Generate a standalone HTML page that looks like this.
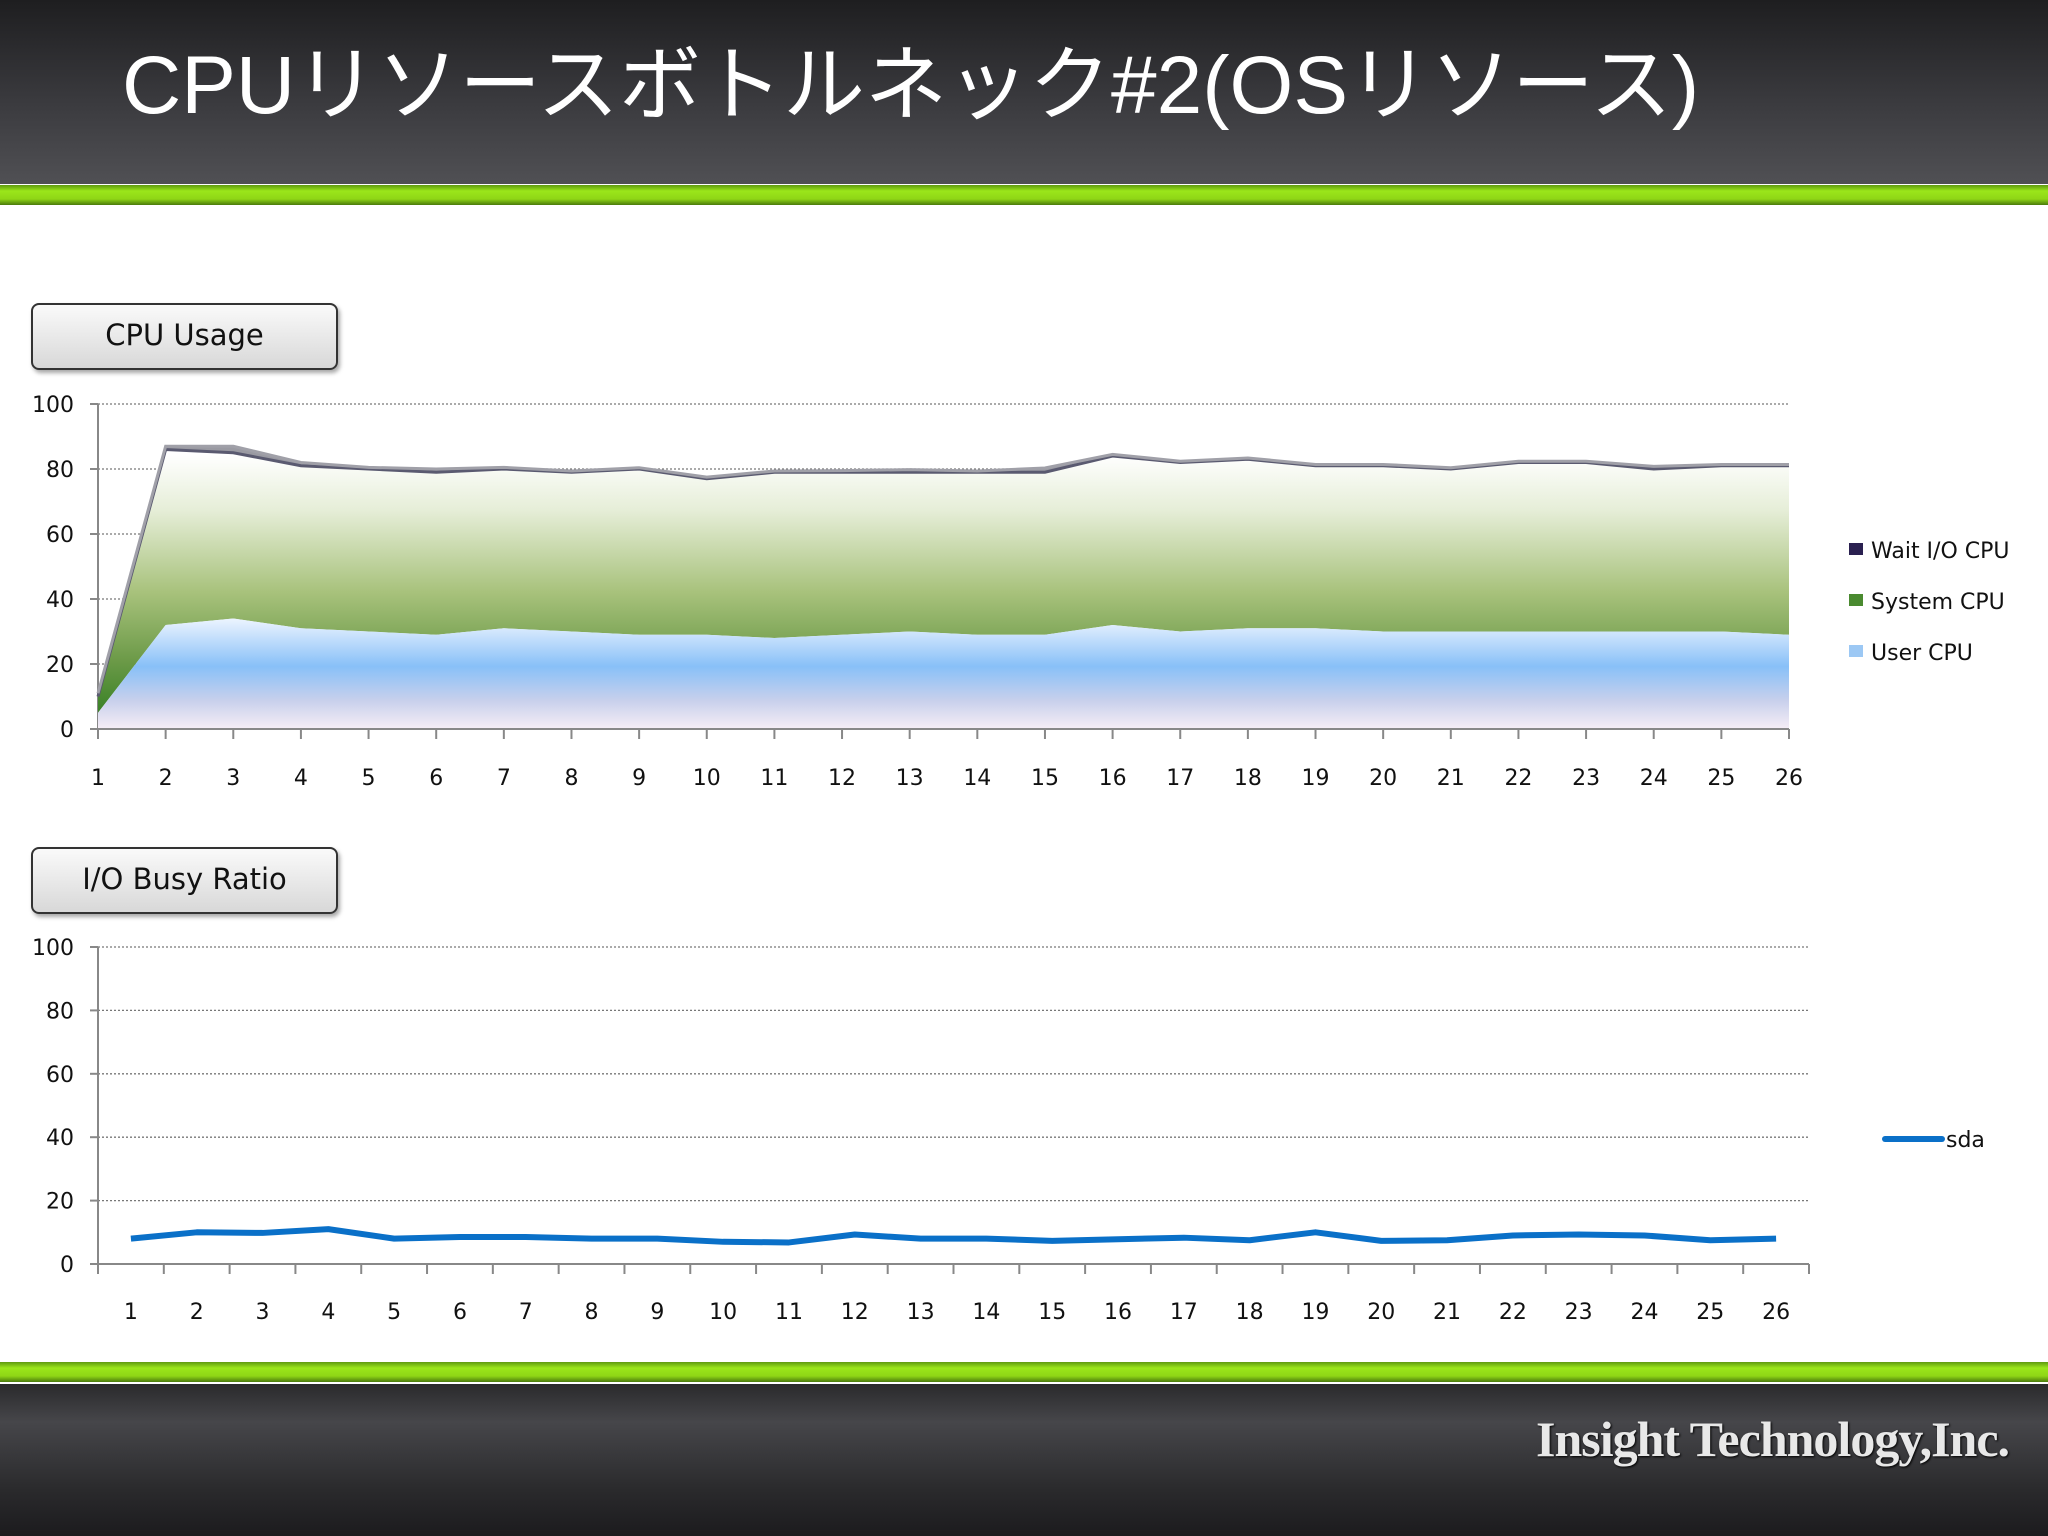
<!DOCTYPE html>
<html><head><meta charset="utf-8"><style>
body{margin:0;width:2048px;height:1536px;overflow:hidden;background:#fff;font-family:"DejaVu Sans","Liberation Sans",sans-serif;position:relative}
.hdr{position:absolute;left:0;top:0;width:2048px;height:184px;background:linear-gradient(180deg,#1e1e20 0%,#3a3a3e 55%,#505054 100%)}
.grn{position:absolute;left:0;width:2048px;height:20px;background:linear-gradient(180deg,#5f9a10,#9be61a 30%,#8fd616 70%,#4a7a0c)}
.ftr{position:absolute;left:0;top:1384px;width:2048px;height:152px;background:linear-gradient(180deg,#2a2a2c,#46464a 25%,#2a2a2c 70%,#1c1b1e)}
.title{position:absolute;left:122px;top:18px;color:#fff;font-size:82px;font-family:"Liberation Sans","Noto Sans CJK JP",sans-serif;letter-spacing:0px;white-space:nowrap}
.btn{position:absolute;left:31px;width:303px;height:63px;border:2px solid #333;border-radius:8px;background:linear-gradient(180deg,#fafafa,#d8d8d8);box-shadow:2px 3px 4px rgba(0,0,0,.35);font-size:29px;text-align:center;line-height:60px;color:#111}
.logo{position:absolute;left:1536px;top:1410px;font-family:"Liberation Serif",serif;font-weight:bold;font-size:50px;color:#e8e8e8;letter-spacing:-1px;text-shadow:1px 1px 2px #000}
</style></head><body>
<div class="hdr"></div>
<div class="title">CPUリソースボトルネック#2(OSリソース)</div>
<div class="grn" style="top:185px"></div>
<div class="grn" style="top:1362px"></div>
<div class="ftr"></div>
<div class="logo">Insight Technology,Inc.</div>
<div class="btn" style="top:303px">CPU Usage</div>
<div class="btn" style="top:847px">I/O Busy Ratio</div>
<svg id="c" width="2048" height="1536" style="position:absolute;left:0;top:0" xmlns="http://www.w3.org/2000/svg">
<defs>
<linearGradient id="gS" gradientUnits="userSpaceOnUse" x1="0" y1="455" x2="0" y2="729"><stop offset="0" stop-color="#ffffff"/><stop offset="0.2" stop-color="#e6eed8"/><stop offset="0.5" stop-color="#a8c27c"/><stop offset="0.75" stop-color="#6c9a48"/><stop offset="1" stop-color="#2a7a1c"/></linearGradient>
<linearGradient id="gU" gradientUnits="userSpaceOnUse" x1="0" y1="615" x2="0" y2="729"><stop offset="0" stop-color="#f4f8ff"/><stop offset="0.45" stop-color="#88c0f8"/><stop offset="0.75" stop-color="#c8d0ec"/><stop offset="1" stop-color="#f6eef6"/></linearGradient>
</defs>
<g id="top"></g><g id="bot"></g>
</svg>
<script>
const cats=[1,2,3,4,5,6,7,8,9,10,11,12,13,14,15,16,17,18,19,20,21,22,23,24,25,26];
const userCpu=[5,32,34,31,30,29,31,30,29,29,28,29,30,29,29,32,30,31,31,30,30,30,30,30,30,29];
const systemCpu=[5,54,51,50,50,50,49,49,51,48,51,50,49,50,50,52,52,52,50,51,50,52,52,50,51,52];
const waitCpu=[1,1,2,1,0.5,1,0.5,0.4,0.4,0.5,0.4,0.5,0.8,0.4,1.3,0.5,0.4,0.4,0.4,0.4,0.4,0.4,0.4,0.8,0.4,0.4];
const sda=[8,10,9.8,11,8,8.5,8.5,8,8,7,6.8,9.3,8,8,7.3,7.8,8.3,7.5,10,7.3,7.5,9,9.3,9,7.5,8];
const yTicks=[0,20,40,60,80,100];
const NS='http://www.w3.org/2000/svg';
function mk(p,t,a){const e=document.createElementNS(NS,t);for(const k in a)e.setAttribute(k,a[k]);p.appendChild(e);return e;}
function axes(g,x0,x1,y0,y1,xl){
 const ys=v=>y0-(v/100)*(y0-y1);
 yTicks.forEach(v=>{
  const y=ys(v);
  if(v>0){const l=mk(g,'line',{x1:x0,x2:x1,y1:y,y2:y,stroke:'#777','stroke-dasharray':'2,2','stroke-width':1.3});
  
  }
  mk(g,'line',{x1:x0-8,x2:x0,y1:y,y2:y,stroke:'#888','stroke-width':2});
  const t=mk(g,'text',{x:x0-24,y:y+8,'text-anchor':'end','font-size':22,fill:'#111'});t.textContent=v;
  
  
 });
 mk(g,'line',{x1:x0,x2:x0,y1:y1,y2:y0,stroke:'#888','stroke-width':2});
 return ys;
}
const T=document.getElementById('top');
const tx0=98,tx1=1789,ty0=729,ty1=404;
const ysT=axes(T,tx0,tx1,ty0,ty1);
const xT=i=>tx0+i*(tx1-tx0)/(cats.length-1);
const cU=userCpu, cS=userCpu.map((v,i)=>v+systemCpu[i]), cW=cS.map((v,i)=>v+waitCpu[i]);
function area(top,bot,fill,name){
 let d='M'+top.map((v,i)=>xT(i)+','+ysT(v)).join('L');
 for(let i=bot.length-1;i>=0;i--)d+='L'+xT(i)+','+ysT(bot[i]);
 const p=mk(T,'path',{d:d+'Z',fill:fill});
 
 
}
area(cW,cS,'#9a9aa2','wait-io-area');
area(cS,cU,'url(#gS)','system-cpu-area');
area(cU,cU.map(()=>0),'url(#gU)','user-cpu-area');
const ls=mk(T,'polyline',{points:cS.map((v,i)=>xT(i)+','+ysT(v)).join(' '),fill:'none',stroke:'#5a5a70','stroke-width':3});


const lw=mk(T,'polyline',{points:cW.map((v,i)=>xT(i)+','+ysT(v)).join(' '),fill:'none',stroke:'#a0a0a8','stroke-width':3});


mk(T,'line',{x1:tx0,x2:tx1,y1:ty0,y2:ty0,stroke:'#888','stroke-width':2});
cats.forEach((c,i)=>{
 mk(T,'line',{x1:xT(i),x2:xT(i),y1:ty0,y2:ty0+10,stroke:'#888','stroke-width':2});
 const t=mk(T,'text',{x:xT(i),y:785,'text-anchor':'middle','font-size':22,fill:'#111'});t.textContent=c;
 
 
});
const legT=[['Wait I/O CPU','#2a2050',550],['System CPU','#4a8a30',601],['User CPU','#9cc8f4',652]];
legT.forEach(l=>{
 const r=mk(T,'rect',{x:1849,y:l[2]-7,width:14,height:12,fill:l[1]});
 
 
 const t=mk(T,'text',{x:1871,y:l[2]+8,'font-size':22,fill:'#111'});t.textContent=l[0];
 
 
});
const B=document.getElementById('bot');
const bx0=98,bx1=1809,by0=1264,by1=947;
const ysB=axes(B,bx0,bx1,by0,by1);
const bw=(bx1-bx0)/cats.length;
const xB=i=>bx0+bw*(i+0.5);
mk(B,'line',{x1:bx0,x2:bx1,y1:by0,y2:by0,stroke:'#888','stroke-width':2});
for(let i=0;i<=cats.length;i++)mk(B,'line',{x1:bx0+bw*i,x2:bx0+bw*i,y1:by0,y2:by0+10,stroke:'#888','stroke-width':2});
cats.forEach((c,i)=>{
 const t=mk(B,'text',{x:xB(i),y:1319,'text-anchor':'middle','font-size':22,fill:'#111'});t.textContent=c;
 
 
});
const sl=mk(B,'polyline',{points:sda.map((v,i)=>xB(i)+','+ysB(v)).join(' '),fill:'none',stroke:'#0a70c8','stroke-width':6,'stroke-linejoin':'round'});


const ll=mk(B,'line',{x1:1885,x2:1942,y1:1139,y2:1139,stroke:'#0a70c8','stroke-width':6,'stroke-linecap':'round'});


const lt=mk(B,'text',{x:1946,y:1147,'font-size':22,fill:'#111'});lt.textContent='sda';


</script>
</body></html>
